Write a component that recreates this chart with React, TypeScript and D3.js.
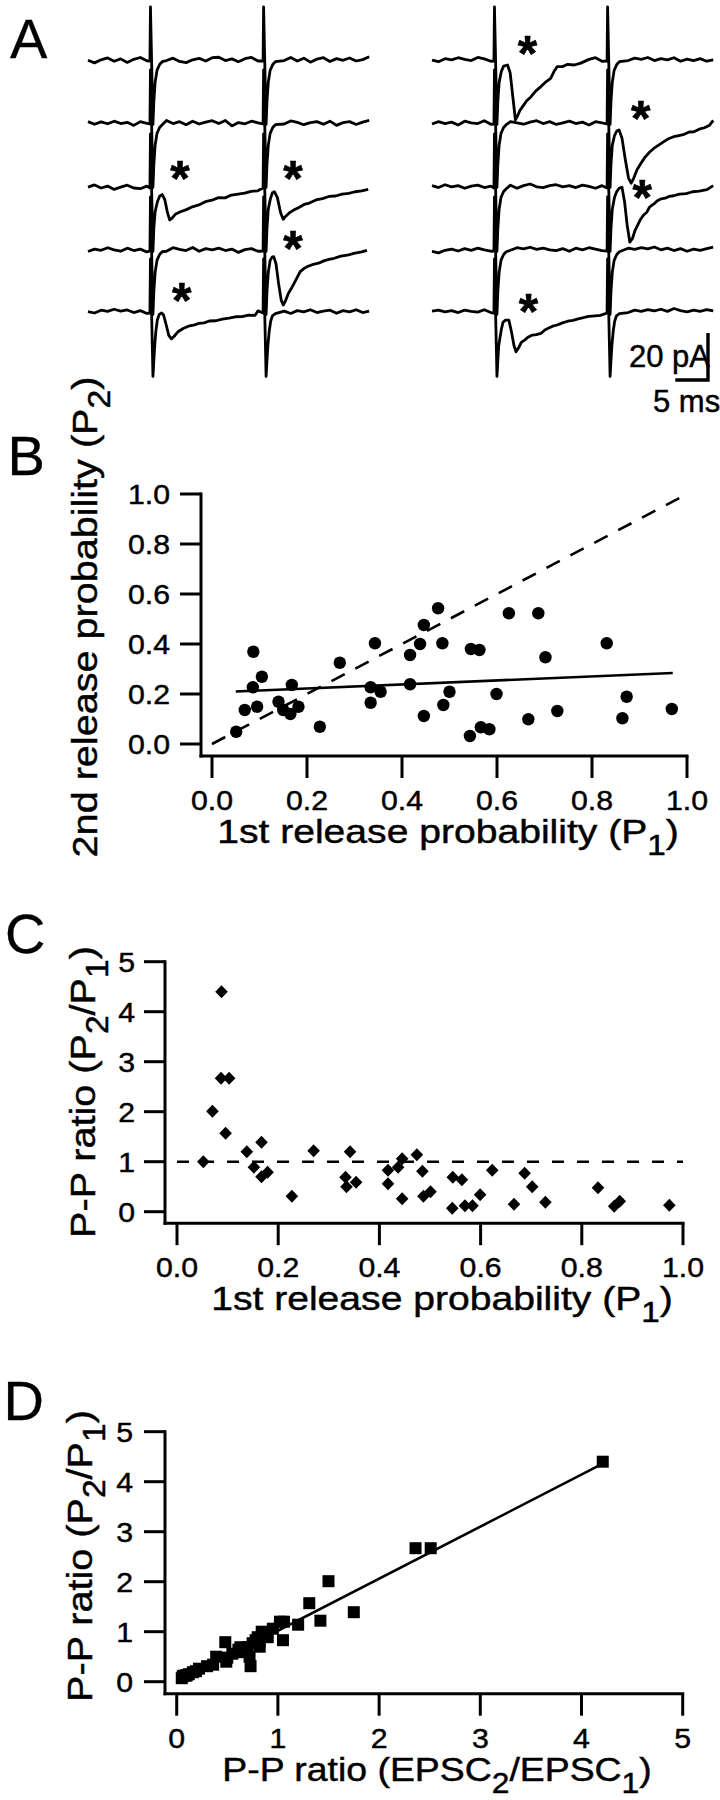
import React from 'react';
import * as d3 from 'd3';

const FONT = '"Liberation Sans", Arial, Helvetica, sans-serif';

// ---------------- Panel A data (time in ms, current in pA) ----------------
const STIM_TIMES = [9.75, 27.05];
const T_END = 43;
const BASELINE_ROWS = [61, 124, 188, 251, 313];

const NOISE_L1 = [0.3,-0.8,0.5,1.3,-0.1,0.9,-0.6,0.7,1.5,0.1,0,1.0,0.2,1.2,-0.2,-0.7,0.5,1.1,0,1.4,1.6,0.2,0.9,-0.3,1.0,1.5,0,0.8,-0.4,1.1,0.2,1.5,0,1.2,-0.5,0.8,1.4,-0.2,1.0,0.3,1.3,0,0.6,1.8];
const NOISE_L2 = [1.0,-0.1,0.9,0.1,1.2,0.2,0.7,-0.6,1.0,0.3,0,0.6,1.5,0.2,1.0,-0.3,1.2,0,0.8,1.4,0.2,1.5,-0.8,0.6,0.1,1.2,0.5,0.3,-0.4,1.0,0,1.3,0.7,-0.3,0.6,1.0,-0.1,1.2,-0.6,0.6,1.0,-0.2,0.8,1.5];
const NOISE_L3 = [0.4,1.3,0,0.8,-0.6,0.4,1.2,0,-0.3,0.8,0,0.4,1.0,-0.1,0.8,-0.3,0.6,1.2,0.2,1.0,0,1.4,0.5,-0.4,0.8,0.2,1.2,-0.1,0.6,1.5,0.2,1.0,-0.4,0.8,1.4,-0.1,1.0,0.2,1.2,0.5,-0.3,1.0,0.3,1.2];
const NOISE_L4 = [-0.2,0.8,0.3,1.4,0.5,-0.1,1.2,0.2,0.8,-0.4,0,1.0,-0.1,1.4,0.7,0.2,1.5,-0.1,1.0,0.5,1.2,0.2,0.8,-0.6,0.6,1.0,-0.1,0.3,-0.4,0.8,0.5,1.4,-0.1,1.0,0.2,1.2,-0.4,0.8,1.5,0.2,1.0,-0.2,0.8,1.4];
const NOISE_L5 = [0.6,0,1.2,0.7,1.6,0.8,1.3,0.2,1.0,-0.2,0,0.3,0.8,-0.1,1.2,0.5,1.0,0.2,1.4,0.7,0.5,1.2,-0.1,0.8,0.2,1.4,0.9,0.4,1.2,0.1,0.8,-0.2,1.0,0.5,1.4,0.2,0.8,1.2,-0.1,1.0,0.5,1.4,0.2,0.8];
const NOISE_R1 = [0.4,-0.3,1.0,0.5,1.4,0.7,0.2,1.5,0.9,-0.1,0,0.8,1.4,0.4,1.2,0.1,1.0,-0.2,0.8,1.5,0.5,1.2,0.1,1.0,0.7,1.4,-0.1,0.5,-0.4,1.0,0.2,1.2,0.7,1.5,0.2,1.0,0.5,1.4,-0.1,0.8,0.2,1.0,-0.1,0.5];
const NOISE_R2 = [0,1.0,0.2,0.8,-0.4,1.2,0.5,0.2,1.4,-0.1,0,0.2,1.0,0.5,-0.1,0.8,1.4,0.2,1.0,-0.2,0.5,1.2,0.2,0.8,-0.4,1.0,0.5,-0.1,0.8,1.2,0.2,1.0,-0.2,0.5,1.4,0.2,0.8,-0.4,1.0,0.5,-0.1,1.2,0.5,1.5];
const NOISE_R3 = [1.0,0.2,1.4,0.5,1.0,-0.1,0.8,1.2,0.2,0.8,0,0.5,1.2,-0.1,1.0,1.7,0.5,0.2,1.0,1.4,0.5,1.0,0.2,1.2,0.7,-0.1,1.0,0.5,1.4,0.2,0.8,1.2,0.4,1.0,-0.1,0.8,1.4,0.4,1.0,0.2,1.2,0.7,-0.1,1.0];
const NOISE_R4 = [-0.2,-0.8,0.3,0.8,0,1.0,0.3,1.2,0.5,-0.1,0,0.8,0.3,1.4,0.9,1.6,0.7,1.2,0.5,0.2,1.0,-0.1,1.2,0.5,1.4,0.8,0.2,1.0,1.6,0.5,1.2,0.7,1.4,0.9,1.7,0.5,1.2,0.2,1.0,-0.1,0.8,0.3,1.0,1.6];
const NOISE_R5 = [0.8,1.2,0.5,1.0,0.2,1.2,0.7,0.4,1.4,0.2,0,0.5,1.0,0.2,0.8,-0.1,1.0,1.6,0.5,1.0,0.2,0.8,1.4,0.5,1.2,0.7,1.0,1.6,0.5,1.0,0.2,1.2,0.7,1.4,0.9,1.6,0.7,1.9,1.0,0.5,1.2,0.7,1.4,0.9];

// stimulus artefacts and EPSCs: [ms after stimulus, pA]
const ART = [[-0.28,0],[-0.2,23],[0.18,-27],[0.32,-17],[0.52,-9],[0.8,-4],[1.2,-1.5],[1.6,-0.3]];
const ART_DEEP = [[-0.28,0],[-0.2,23],[0.18,-27],[0.28,-22],[0.45,-14],[0.65,-8],[0.88,-3.5],[1.15,-1.2],[1.6,-0.3]];
const EPSC_L3_1 = [[-0.28,0],[-0.2,23],[0.18,-27],[0.32,-17],[0.52,-10],[0.85,-6],[1.2,-3.5],[1.6,-2.8],[2.0,-5],[2.4,-10.5],[2.75,-13.6],[3.1,-12.8],[3.6,-11.2],[4.3,-10.2],[5.3,-9.2],[6.2,-8],[7.2,-7.2],[8.2,-5.8],[9.2,-5.2],[10.2,-4.1],[11.2,-4.2],[12.2,-3],[13.2,-2.6],[14.2,-2.2],[15.2,-1.4],[16.2,-1.2]];
const EPSC_L3_2 = [[-0.28,0],[-0.2,23],[0.18,-27],[0.32,-17],[0.52,-9],[0.85,-4.5],[1.15,-2],[1.45,-1.6],[1.9,-4],[2.4,-10.5],[2.8,-13.3],[3.2,-12],[3.8,-10.4],[4.4,-9.4],[5.2,-8.3],[6.0,-7],[6.8,-6.4],[7.8,-5.1],[8.8,-4.5],[9.8,-3.6],[10.8,-3.4],[11.8,-2.6],[12.8,-2.3],[13.8,-1.6],[14.8,-1.2],[15.8,-0.6]];
const EPSC_L4_2 = [[-0.28,0],[-0.2,23],[0.18,-27],[0.32,-17],[0.52,-9],[0.8,-4],[1.1,-2.6],[1.35,-2.4],[1.7,-5.5],[2.1,-14],[2.5,-21],[2.8,-23],[3.1,-21.5],[3.6,-18],[4.2,-15.2],[4.8,-12],[5.4,-8.8],[6.0,-7.4],[6.6,-6.5],[7.4,-5.7],[8.2,-5.2],[9.0,-4.2],[9.8,-3.6],[10.6,-3.1],[11.6,-2.2],[12.6,-1.8],[13.6,-1],[14.8,-0.4],[15.6,0.3]];
const EPSC_L5_1 = [[-0.28,0],[-0.2,23],[0.18,-27],[0.28,-22],[0.45,-14],[0.62,-8],[0.85,-3],[1.15,-0.6],[1.5,0],[1.8,-0.8],[2.2,-5],[2.6,-9.5],[3.0,-11],[3.4,-10],[4.0,-8],[4.8,-6.6],[5.6,-5.6],[6.4,-5.2],[7.2,-4.4],[8.0,-4.2],[8.8,-3.4],[9.8,-3.3],[10.8,-2.6],[11.8,-2.2],[12.8,-1.6],[13.8,-1.5],[14.8,-0.9],[15.8,-1.0]];
const EPSC_R1_1 = [[-0.28,0],[-0.2,23],[0.18,-27],[0.32,-17],[0.52,-9],[0.85,-4.5],[1.2,-2.2],[1.8,-1.7],[2.2,-5],[2.6,-15],[3.0,-25],[3.3,-23.5],[3.7,-21],[4.1,-19.4],[4.7,-17],[5.4,-15.2],[6.1,-12.8],[6.9,-10.9],[7.6,-9],[8.4,-7.4],[8.9,-4.5],[9.4,-2.4],[10.2,-2.4],[11,-1.4],[12,-1.7],[13,-0.9]];
const EPSC_R2_2 = [[-0.28,0],[-0.2,23],[0.18,-27],[0.32,-17],[0.52,-9],[0.85,-5],[1.2,-3],[1.55,-2.5],[2.0,-6],[2.5,-15],[3.0,-23],[3.4,-25.2],[3.8,-23],[4.3,-19.5],[4.9,-16.7],[5.5,-14.2],[6.2,-12],[6.9,-10.3],[7.6,-9],[8.4,-7.5],[9.1,-6.3],[9.9,-5.4],[10.7,-4.9],[11.5,-4.4],[12.3,-3.4],[13.0,-3.3],[13.8,-2.2],[14.6,-1.6],[15.4,-0.5]];
const EPSC_R3_2 = [[-0.28,0],[-0.2,23],[0.18,-27],[0.32,-17],[0.52,-9],[0.85,-4],[1.2,-1.5],[1.6,0],[2.0,0.3],[2.4,-6],[2.8,-16],[3.2,-23],[3.6,-21.5],[4.0,-18],[4.4,-15.8],[4.8,-13.5],[5.3,-11.5],[5.8,-10.3],[6.2,-8.2],[6.6,-7.3],[7.0,-6.5],[7.4,-5.4],[8.0,-4.6],[8.6,-4.3],[9.2,-3.6],[9.9,-3.3],[10.8,-2.6],[11.8,-2.4],[12.8,-1.6],[13.8,-1.3],[15,-0.7]];
const EPSC_R5_1 = [[-0.28,0],[-0.2,23],[0.18,-27],[0.28,-22],[0.45,-14],[0.62,-11],[0.85,-7],[1.1,-4],[1.5,-3],[2.0,-3],[2.4,-8],[2.8,-14],[3.1,-16.5],[3.5,-14.8],[3.9,-12.5],[4.4,-11.5],[5.0,-10.2],[5.6,-9.4],[6.2,-9.2],[6.9,-8.7],[7.5,-7.2],[8.1,-6.4],[8.7,-5.6],[9.4,-5.1],[10.2,-4.2],[11.0,-3.5],[11.8,-3.1],[12.6,-2.5],[13.4,-2.0],[14.2,-1.4],[15.2,-1.2],[16.0,-1.0]];

const LEFT_TRACES = [
  { noise: NOISE_L1, events: [ART, ART] },
  { noise: NOISE_L2, events: [ART, ART] },
  { noise: NOISE_L3, events: [EPSC_L3_1, EPSC_L3_2] },
  { noise: NOISE_L4, events: [ART, EPSC_L4_2] },
  { noise: NOISE_L5, events: [EPSC_L5_1, ART_DEEP] },
];
const RIGHT_TRACES = [
  { noise: NOISE_R1, events: [EPSC_R1_1, ART] },
  { noise: NOISE_R2, events: [ART, EPSC_R2_2] },
  { noise: NOISE_R3, events: [ART, EPSC_R3_2] },
  { noise: NOISE_R4, events: [ART, ART] },
  { noise: NOISE_R5, events: [EPSC_R5_1, ART_DEEP] },
];
// asterisks: [trace, stimulus, ms after stimulus, pA]
const ASTERISKS_L = [[2, 0, 4.3, 8.5], [2, 1, 4.3, 8.5], [3, 1, 4.3, 5.5], [4, 0, 4.6, 9.4]];
const ASTERISKS_R = [[0, 0, 4.85, 7.5], [1, 1, 4.85, 6.7], [2, 1, 5.1, 0.3], [4, 0, 5.0, 4.9]];
const SCALE_MS = 5;
const SCALE_PA = 20;

// ---------------- Panel B ----------------
const B_X = [0.051,0.069,0.087,0.086,0.105,0.095,0.140,0.150,0.168,0.165,0.182,0.227,0.269,0.343,0.334,0.355,0.334,0.417,0.417,0.438,0.446,0.446,0.476,0.485,0.487,0.500,0.543,0.545,0.563,0.566,0.584,0.599,0.625,0.666,0.687,0.702,0.727,0.831,0.873,0.864,0.968];
const B_Y = [0.049,0.136,0.369,0.227,0.269,0.149,0.169,0.136,0.236,0.120,0.149,0.069,0.325,0.403,0.227,0.209,0.165,0.356,0.239,0.400,0.476,0.112,0.543,0.403,0.156,0.209,0.032,0.380,0.376,0.067,0.059,0.200,0.523,0.099,0.523,0.347,0.132,0.403,0.189,0.103,0.140];
const B_FIT_X = [0.05, 0.97];
const B_FIT_Y = [0.21, 0.284];
const P_TICKS = [0, 0.2, 0.4, 0.6, 0.8, 1.0];
const P_LABELS = ['0.0', '0.2', '0.4', '0.6', '0.8', '1.0'];

// ---------------- Panel C ----------------
const C_X = [0.088,0.087,0.103,0.070,0.096,0.052,0.138,0.152,0.167,0.167,0.179,0.227,0.270,0.342,0.333,0.335,0.354,0.417,0.417,0.437,0.445,0.445,0.474,0.485,0.487,0.501,0.544,0.545,0.563,0.569,0.584,0.599,0.623,0.666,0.687,0.702,0.728,0.832,0.864,0.875,0.973];
const C_Y = [4.40,2.67,2.67,2.01,1.57,1.00,1.20,0.89,1.39,0.70,0.79,0.31,1.22,1.20,0.69,0.50,0.59,0.56,0.83,0.89,1.06,0.26,1.14,0.81,0.31,0.40,0.07,0.69,0.64,0.12,0.12,0.34,0.83,0.15,0.77,0.50,0.19,0.48,0.11,0.21,0.13];
const RATIO_TICKS = [0, 1, 2, 3, 4, 5];
const RATIO_LABELS = ['0', '1', '2', '3', '4', '5'];
const C_REF = 1;

// ---------------- Panel D ----------------
const D_X = [4.21,2.36,2.51,1.50,1.31,1.75,1.42,1.02,1.06,1.20,0.95,0.84,0.90,0.80,1.05,0.78,0.82,0.48,0.75,0.82,0.63,0.70,0.61,0.66,0.55,0.72,0.39,0.50,0.49,0.36,0.73,0.30,0.22,0.19,0.16,0.12,0.10,0.09,0.07,0.06,0.05];
const D_Y = [4.40,2.67,2.67,2.01,1.57,1.39,1.22,1.20,1.20,1.14,1.06,1.00,0.89,0.89,0.83,0.83,0.81,0.79,0.77,0.70,0.69,0.69,0.64,0.59,0.56,0.50,0.50,0.48,0.40,0.34,0.31,0.31,0.26,0.21,0.19,0.15,0.13,0.12,0.12,0.11,0.07];
const D_FIT_X = [0.05, 4.2];
const D_FIT_Y = [0.03, 4.35];

// ---------------- text parts ----------------
type Part = string | { sub: string };
const TITLE_P1: Part[] = ['1st release probability (P', { sub: '1' }, ')'];
const TITLE_P2: Part[] = ['2nd release probability (P', { sub: '2' }, ')'];
const TITLE_RATIO: Part[] = ['P-P ratio (P', { sub: '2' }, '/P', { sub: '1' }, ')'];
const TITLE_EPSC: Part[] = ['P-P ratio (EPSC', { sub: '2' }, '/EPSC', { sub: '1' }, ')'];

// ---------------- helpers ----------------
function buildTrace(noise: number[], events: number[][][]) {
  const wins = events.map((ev, k) => [STIM_TIMES[k] + ev[0][0], STIM_TIMES[k] + ev[ev.length - 1][0]]);
  const pts: number[][] = [];
  noise.forEach((v, i) => {
    if (!wins.some(([a, b]) => i >= a - 0.4 && i <= b + 0.4)) pts.push([i, v]);
  });
  events.forEach((ev, k) => ev.forEach(([dt, v]) => pts.push([STIM_TIMES[k] + dt, v])));
  pts.sort((a, b) => a[0] - b[0]);
  return pts;
}

type TP = { x: number; y: number; size: number; sx?: number; anchor?: string; rot?: number; dy?: string; weight?: string; sw?: number; children?: any };
const Txt = ({ x, y, size, sx = 1, anchor = 'start', rot = 0, dy, weight, sw = 0.45, children }: TP) => (
  <text transform={`translate(${x},${y}) rotate(${rot}) scale(${sx},1)`} fontSize={size} textAnchor={anchor as any}
    dy={dy} fontFamily={FONT} fontWeight={weight} fill="#000" stroke="#000" strokeWidth={sw}>{children}</text>
);

function rich(parts: Part[], size: number) {
  let lowered = false;
  const shift = size * 0.36;
  return parts.map((p, i) => {
    if (typeof p === 'string') {
      const dy = lowered ? -shift : 0;
      lowered = false;
      return <tspan key={i} dy={dy}>{p}</tspan>;
    }
    lowered = true;
    return <tspan key={i} fontSize={size * 0.85} dy={shift}>{p.sub}</tspan>;
  });
}

const AX = 3;
const TICK_LEN = 21;
const TICK_FS = 28;
const TICK_SX = 1.08;
const XT_FS = 34;
const XT_SX = 1.15;
const YT_FS = 36;
const YT_SX = 1.1;

function TraceGroup({ traces, x0, asterisks }: { traces: any[]; x0: number; asterisks: number[][] }) {
  const x = d3.scaleLinear().domain([0, T_END]).range([x0, x0 + T_END * 6.54]);
  return (
    <g>
      {traces.map((tr, i) => {
        const y = d3.scaleLinear().domain([0, SCALE_PA]).range([BASELINE_ROWS[i], BASELINE_ROWS[i] - 47]);
        const line = d3.line<number[]>().x(d => x(d[0])).y(d => y(d[1]));
        return <path key={i} d={line(buildTrace(tr.noise, tr.events)) || ''} fill="none" stroke="#000" strokeWidth={2.8} strokeLinejoin="round" />;
      })}
      {asterisks.map(([ti, si, dt, v], k) => {
        const y = d3.scaleLinear().domain([0, SCALE_PA]).range([BASELINE_ROWS[ti], BASELINE_ROWS[ti] - 47]);
        return <Txt key={k} x={x(STIM_TIMES[si] + dt)} y={y(v)} size={50} anchor="middle" dy="0.55em" weight="bold" sw={0.6}>*</Txt>;
      })}
    </g>
  );
}

export default function App() {
  const xR = d3.scaleLinear().domain([0, T_END]).range([432, 432 + T_END * 6.54]);
  const yR5 = d3.scaleLinear().domain([0, SCALE_PA]).range([BASELINE_ROWS[4], BASELINE_ROWS[4] - 47]);
  const sbX = xR(42.2);
  const sbY = yR5(-28.5);
  const sbTop = yR5(-28.5 + SCALE_PA);
  const sbLeft = xR(42.2 - SCALE_MS);

  const xB = d3.scaleLinear().domain([0, 1]).range([212, 687]);
  const yB = d3.scaleLinear().domain([0, 1]).range([744, 494]);
  const bAxX = xB(0) - 11, bAxY = yB(0) + 12;

  const xC = d3.scaleLinear().domain([0, 1]).range([177, 683]);
  const yC = d3.scaleLinear().domain([0, 5]).range([1211.7, 961.7]);
  const cAxX = xC(0) - 12, cAxY = yC(0) + 11.5;

  const xD = d3.scaleLinear().domain([0, 5]).range([176.7, 682.7]);
  const yD = d3.scaleLinear().domain([0, 5]).range([1681.7, 1431.7]);
  const dAxX = xD(0) - 11.7, dAxY = yD(0) + 12;

  const fitB = d3.line<number>().x(i => xB(B_FIT_X[i])).y(i => yB(B_FIT_Y[i]));
  const fitD = d3.line<number>().x(i => xD(D_FIT_X[i])).y(i => yD(D_FIT_Y[i]));

  const axes = (xs: any, ys: any, axX: number, axY: number, xt: number[], xl: string[], yt: number[], yl: string[], yLabX: number) => (
    <g>
      <line x1={axX} x2={axX} y1={ys(yt[yt.length - 1])} y2={axY} stroke="#000" strokeWidth={AX} strokeLinecap="square" />
      <line x1={axX} x2={xs(xt[xt.length - 1])} y1={axY} y2={axY} stroke="#000" strokeWidth={AX} strokeLinecap="square" />
      {yt.map((t, i) => (
        <g key={'y' + i}>
          <line x1={axX - TICK_LEN} x2={axX} y1={ys(t)} y2={ys(t)} stroke="#000" strokeWidth={AX} />
          <Txt x={yLabX} y={ys(t)} size={TICK_FS} sx={TICK_SX} anchor="end" dy="0.36em">{yl[i]}</Txt>
        </g>
      ))}
      {xt.map((t, i) => (
        <g key={'x' + i}>
          <line x1={xs(t)} x2={xs(t)} y1={axY} y2={axY + TICK_LEN + 1} stroke="#000" strokeWidth={AX} />
          <Txt x={xs(t)} y={axY + 54} size={TICK_FS} sx={TICK_SX} anchor="middle">{xl[i]}</Txt>
        </g>
      ))}
    </g>
  );

  const diamond = (cx: number, cy: number) => `M${cx},${cy - 6.5}L${cx + 6.3},${cy}L${cx},${cy + 6.5}L${cx - 6.3},${cy}Z`;

  return (
    <svg width={720} height={1800} style={{ position: 'absolute', left: 0, top: 0, background: '#fff' }}>
      <rect x={0} y={0} width={720} height={1800} fill="#fff" />
      <Txt x={10} y={58} size={56} sw={0.3}>A</Txt>
      <Txt x={7.5} y={475} size={56} sw={0.3}>B</Txt>
      <Txt x={5} y={953} size={56} sw={0.3}>C</Txt>
      <Txt x={3.5} y={1420} size={56} sw={0.3}>D</Txt>

      {/* Panel A */}
      <TraceGroup traces={LEFT_TRACES} x0={88} asterisks={ASTERISKS_L} />
      <TraceGroup traces={RIGHT_TRACES} x0={432} asterisks={ASTERISKS_R} />
      <path d={`M${sbX},${sbTop}L${sbX},${sbY}L${sbLeft},${sbY}`} fill="none" stroke="#000" strokeWidth={3.4} />
      <Txt x={sbX + 2} y={sbY - 13} size={31} anchor="end">20 pA</Txt>
      <Txt x={sbX - 55} y={sbY + 32} size={31}>5 ms</Txt>

      {/* Panel B */}
      {axes(xB, yB, bAxX, bAxY, P_TICKS, P_LABELS, P_TICKS, P_LABELS, 170)}
      <line x1={xB(0)} y1={yB(0)} x2={xB(1)} y2={yB(1)} stroke="#000" strokeWidth={2.6} strokeDasharray="15,12" />
      <path d={fitB([0, 1]) || ''} stroke="#000" strokeWidth={2.6} fill="none" />
      {B_X.map((v, i) => <circle key={i} cx={xB(v)} cy={yB(B_Y[i])} r={6.2} fill="#000" />)}
      <Txt x={448} y={bAxY + 87} size={XT_FS} sx={XT_SX} anchor="middle">{rich(TITLE_P1, XT_FS)}</Txt>
      <Txt x={97} y={617} size={YT_FS} sx={YT_SX} anchor="middle" rot={-90}>{rich(TITLE_P2, YT_FS)}</Txt>

      {/* Panel C */}
      {axes(xC, yC, cAxX, cAxY, P_TICKS, P_LABELS, RATIO_TICKS, RATIO_LABELS, 135)}
      <line x1={xC(0)} y1={yC(C_REF)} x2={xC(1)} y2={yC(C_REF)} stroke="#000" strokeWidth={2.6} strokeDasharray="12,13" />
      {C_X.map((v, i) => <path key={i} d={diamond(xC(v), yC(C_Y[i]))} fill="#000" />)}
      <Txt x={442} y={cAxY + 87} size={XT_FS} sx={XT_SX} anchor="middle">{rich(TITLE_P1, XT_FS)}</Txt>
      <Txt x={95} y={1092} size={YT_FS} sx={YT_SX} anchor="middle" rot={-90}>{rich(TITLE_RATIO, YT_FS)}</Txt>

      {/* Panel D */}
      {axes(xD, yD, dAxX, dAxY, RATIO_TICKS, RATIO_LABELS, RATIO_TICKS, RATIO_LABELS, 133)}
      <path d={fitD([0, 1]) || ''} stroke="#000" strokeWidth={2.6} fill="none" />
      {D_X.map((v, i) => <rect key={i} x={xD(v) - 6} y={yD(D_Y[i]) - 6} width={12} height={12} fill="#000" />)}
      <Txt x={437} y={dAxY + 87} size={XT_FS} sx={1.1} anchor="middle">{rich(TITLE_EPSC, XT_FS)}</Txt>
      <Txt x={92} y={1556} size={YT_FS} sx={YT_SX} anchor="middle" rot={-90}>{rich(TITLE_RATIO, YT_FS)}</Txt>
    </svg>
  );
}
